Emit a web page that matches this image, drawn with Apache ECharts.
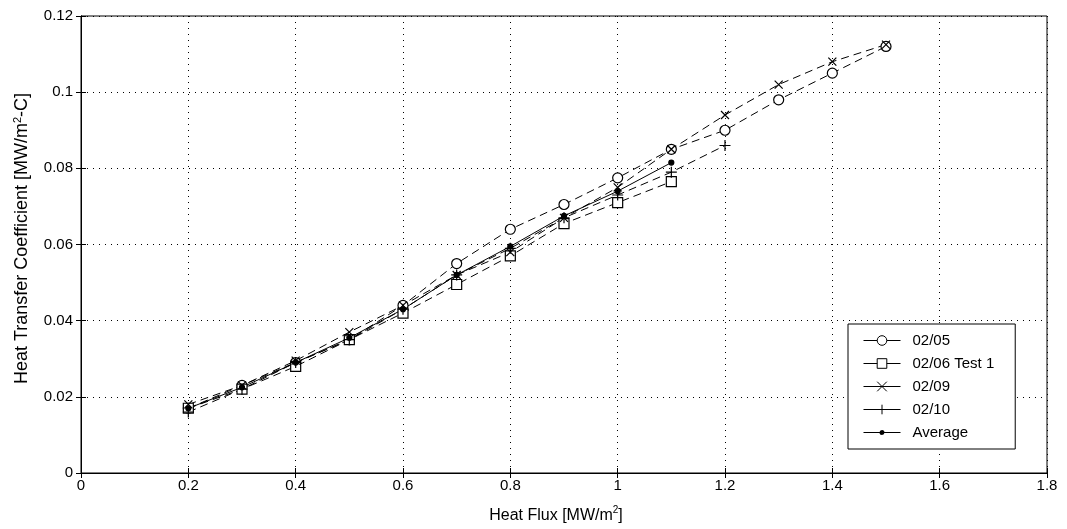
<!DOCTYPE html>
<html>
<head>
<meta charset="utf-8">
<script src="https://cdn.jsdelivr.net/npm/echarts@6/dist/echarts.min.js"></script>
<style>html,body{margin:0;padding:0;background:#fff}#c{width:1067px;height:529px}</style>
</head>
<body>
<div id="c"></div>
<script>
const xs = [0.2,0.3,0.4,0.5,0.6,0.7,0.8,0.9,1.0,1.1,1.2,1.3,1.4,1.5];
const s0205 = [0.017,0.023,0.029,0.035,0.044,0.055,0.064,0.0705,0.0775,0.085,0.090,0.098,0.105,0.112];
const s0206 = [0.017,0.022,0.028,0.035,0.042,0.0495,0.057,0.0655,0.071,0.0765];
const s0209 = [0.018,0.023,0.0295,0.037,0.044,0.052,0.058,0.067,0.075,0.085,0.094,0.102,0.108,0.1125];
const s0210 = [0.016,0.022,0.029,0.035,0.043,0.052,0.059,0.067,0.073,0.079,0.086];
const sAvg  = [0.017,0.0225,0.029,0.0355,0.043,0.052,0.0595,0.0675,0.074,0.0815];
const names = ['02/05','02/06 Test 1','02/09','02/10','Average'];

const pair = arr => arr.map((v,i)=>[xs[i],v]);
const FONT = 'Liberation Sans';
const xPath = 'path://M0,0L10,10M10,0L0,10';
const plusPath = 'path://M5,0L5,10M0,5L10,5';
const avgIcon = 'path://M0,5.5L37,5.5L37,6.5L0,6.5Z M18.5,3.5A2.5,2.5 0 1 1 18.49,3.5Z';

function mk(name, data, symbol, size, dashed, fill){
  return {
    name, type:'line', data: pair(data), symbol, symbolSize:size,
    showSymbol:true,
    lineStyle:{color:'#000', width:1, type: dashed ? [8,5] : 'solid'},
    itemStyle:{color: fill, borderColor:'#000', borderWidth:1.2},
    emphasis:{disabled:true}, animation:false, z: 3
  };
}

const axisCommon = {
  axisLine:{show:true, lineStyle:{color:'#000', width:1}},
  axisTick:{show:true, inside:true, length:5, lineStyle:{color:'#000'}}
};

const chart = echarts.init(document.getElementById('c'));
chart.setOption({
  backgroundColor:'#fff',
  animation:false,
  grid:{left:81, right:20, top:16, bottom:54, show:true, borderColor:'#000', borderWidth:1, backgroundColor:'transparent'},
  legend:{
    orient:'vertical', left:848, top:324,
    backgroundColor:'#fff', borderColor:'#000', borderWidth:1,
    padding:[9,21,9,15], itemGap:8, itemWidth:37, itemHeight:12,
    lineStyle:{type:'solid', width:1},
    itemStyle:{borderWidth:1},
    textStyle:{fontFamily:FONT, fontSize:15, color:'#000', padding:[0,0,0,7]},
    data: [
      {name:'02/05'}, {name:'02/06 Test 1'}, {name:'02/09'}, {name:'02/10'},
      {name:'Average', icon: avgIcon, itemStyle:{color:'#000', borderWidth:0}}
    ]
  },
  xAxis:[Object.assign({
    type:'value', min:0, max:1.8, interval:0.2,
    name:'{a|Heat Flux [MW/m}{s|2}{a|]}', nameLocation:'middle', nameGap:32,
    nameTextStyle:{padding:[0,16,0,0], rich:{a:{fontFamily:FONT,fontSize:16,color:'#000',verticalAlign:'bottom'},s:{fontFamily:FONT,fontSize:10,color:'#000',verticalAlign:'top',padding:[0,0,9,0]}}},
    axisLabel:{fontFamily:FONT, fontSize:15, color:'#000', margin:5},
    splitLine:{show:true, lineStyle:{color:'#000', type:[1,5], width:1}}
  }, axisCommon),
  Object.assign({
    type:'value', min:0, max:1.8, interval:0.2, position:'top',
    axisLabel:{show:false}, splitLine:{show:false}
  }, axisCommon)],
  yAxis:[Object.assign({
    type:'value', min:0, max:0.12, interval:0.02,
    name:'{a|Heat Transfer Coefficient [MW/m}{s|2}{a|-C]}', nameLocation:'middle', nameGap:48, nameRotate:90,
    nameTextStyle:{padding:[0,0,0,12], rich:{a:{fontFamily:FONT,fontSize:18,color:'#000'},s:{fontFamily:FONT,fontSize:11,color:'#000',padding:[0,0,10,0]}}},
    axisLabel:{fontFamily:FONT, fontSize:15, color:'#000', margin:8},
    splitLine:{show:true, lineStyle:{color:'#000', type:[1,5], width:1}}
  }, axisCommon),
  Object.assign({
    type:'value', min:0, max:0.12, interval:0.02, position:'right',
    axisLabel:{show:false}, splitLine:{show:false}
  }, axisCommon)],
  series:[
    mk('02/05', s0205, 'circle', 10, true, '#fff'),
    mk('02/06 Test 1', s0206, 'rect', 10, true, '#fff'),
    mk('02/09', s0209, xPath, 8, true, 'rgba(0,0,0,0)'),
    mk('02/10', s0210, plusPath, 11, true, 'rgba(0,0,0,0)'),
    mk('Average', sAvg, 'circle', 5, false, '#000')
  ]
});
</script>
</body>
</html>
